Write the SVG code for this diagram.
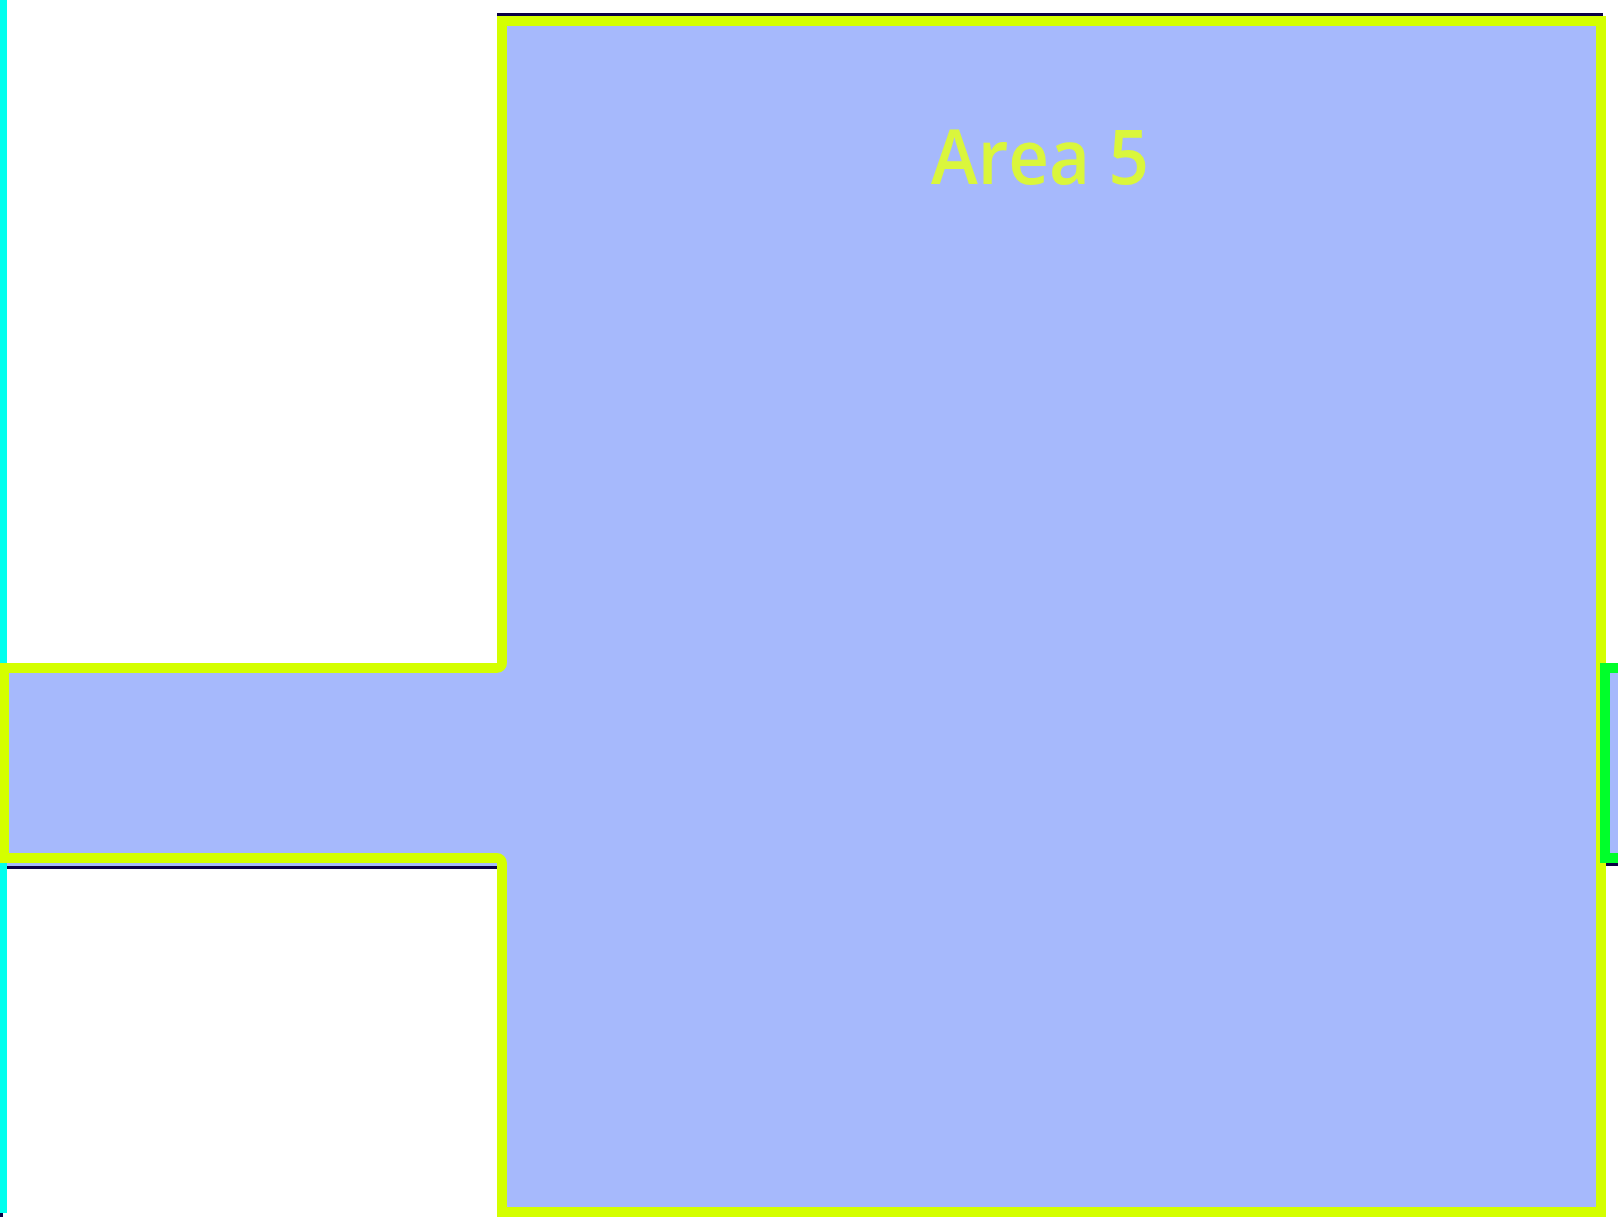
<svg xmlns="http://www.w3.org/2000/svg" width="1618" height="1217" viewBox="0 0 1618 1217">
<style>
.edge{fill:#0b0045}
.area{fill:#a6b9fc;stroke:#d4ff00;stroke-width:10}
.label{font-family:"Open Sans","Noto Sans",sans-serif;font-weight:600;font-size:76px;fill:#daf63c}
</style>
<rect x="0" y="0" width="1618" height="1217" fill="#ffffff"/>
<g id="connectors">
<rect x="0" y="0" width="7" height="1213" fill="#00ffee"/>
<rect x="0" y="1213" width="3" height="4" class="edge"/>
<rect x="497" y="13" width="1106" height="3" class="edge"/>
<rect x="7" y="863" width="490" height="3" fill="#a6b9fc"/>
<rect x="7" y="866" width="490" height="3" class="edge"/>
<rect x="1606" y="863" width="12" height="3" class="edge"/>
</g>
<g id="area5">
<path class="area" d="M502,21 H1601 V1212 H502 V863 A5,5 0 0 0 497,858 H4 V668 H497 A5,5 0 0 0 502,663 Z"/>
<text class="label" x="1040" y="184" text-anchor="middle" textLength="218" lengthAdjust="spacingAndGlyphs">Area 5</text>
</g>
<g id="area6">
<path d="M1625,668 H1605 V858 H1625" fill="#a6b9fc" stroke="#00ff2a" stroke-width="10"/>
</g>
</svg>
